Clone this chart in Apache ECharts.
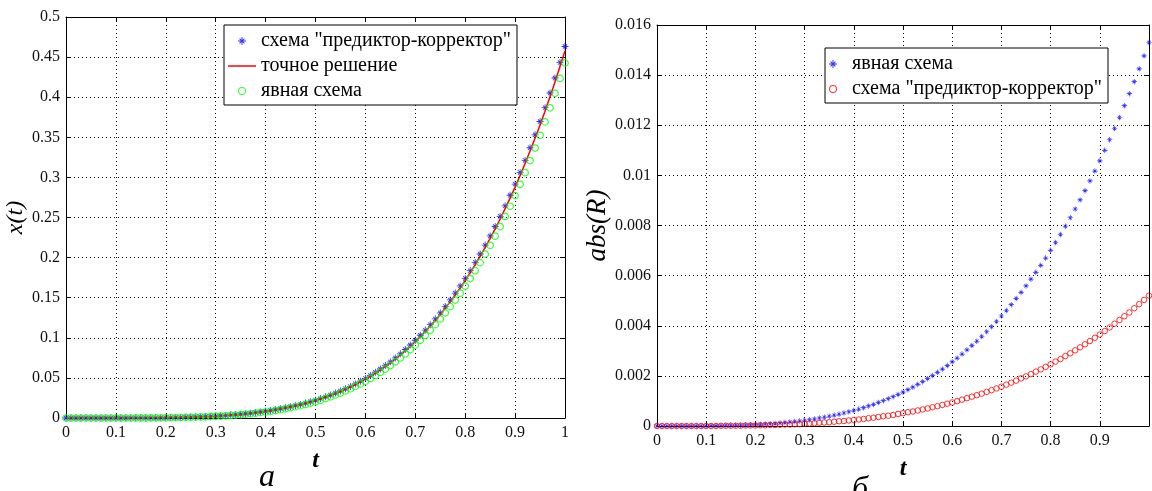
<!DOCTYPE html>
<html>
<head>
<meta charset="utf-8">
<script src="https://cdn.jsdelivr.net/npm/echarts@6/dist/echarts.min.js"></script>
<style>
html,body{margin:0;padding:0;background:#fff;}
#chart{width:1152px;height:491px;}
</style>
</head>
<body>
<div id="chart"></div>
<script>
// ---- data ----
const T = [
0,0.01,0.02,0.03,0.04,0.05,0.06,0.07,0.08,0.09,
0.1,0.11,0.12,0.13,0.14,0.15,0.16,0.17,0.18,0.19,
0.2,0.21,0.22,0.23,0.24,0.25,0.26,0.27,0.28,0.29,
0.3,0.31,0.32,0.33,0.34,0.35,0.36,0.37,0.38,0.39,
0.4,0.41,0.42,0.43,0.44,0.45,0.46,0.47,0.48,0.49,
0.5,0.51,0.52,0.53,0.54,0.55,0.56,0.57,0.58,0.59,
0.6,0.61,0.62,0.63,0.64,0.65,0.66,0.67,0.68,0.69,
0.7,0.71,0.72,0.73,0.74,0.75,0.76,0.77,0.78,0.79,
0.8,0.81,0.82,0.83,0.84,0.85,0.86,0.87,0.88,0.89,
0.9,0.91,0.92,0.93,0.94,0.95,0.96,0.97,0.98,0.99,
1];

// left panel: x(t)
const xPredCorr = [
0,0,0,0,0,0,0,0,0,0,
0,0,0,0.0001,0.0001,0.0001,0.0001,0.0002,0.0002,0.0003,
0.0004,0.0005,0.0006,0.0007,0.0009,0.0011,0.0013,0.0015,0.0018,0.0021,
0.0024,0.0028,0.0032,0.0036,0.0041,0.0047,0.0053,0.0060,0.0067,0.0075,
0.0084,0.0093,0.0104,0.0115,0.0127,0.0140,0.0154,0.0169,0.0186,0.0203,
0.0222,0.0242,0.0264,0.0286,0.0311,0.0337,0.0365,0.0394,0.0425,0.0459,
0.0493,0.0530,0.0570,0.0611,0.0654,0.0700,0.0749,0.0800,0.0854,0.0910,
0.0969,0.1032,0.1096,0.1164,0.1236,0.1311,0.1391,0.1472,0.1558,0.1647,
0.1740,0.1838,0.1940,0.2045,0.2156,0.2270,0.2388,0.2514,0.2645,0.2777,
0.2916,0.3062,0.3212,0.3370,0.3531,0.3697,0.3870,0.4052,0.4239,0.4432,
0.4632];

const xExact = [
0,0,0,0,0,0,0,0,0,0,
0,0,0,0.0001,0.0001,0.0001,0.0001,0.0002,0.0002,0.0003,
0.0004,0.0005,0.0006,0.0007,0.0009,0.0010,0.0012,0.0014,0.0017,0.0020,
0.0023,0.0026,0.0030,0.0035,0.0040,0.0045,0.0051,0.0058,0.0065,0.0073,
0.0081,0.0091,0.0101,0.0112,0.0124,0.0137,0.0150,0.0165,0.0181,0.0198,
0.0217,0.0237,0.0258,0.0280,0.0304,0.0330,0.0357,0.0386,0.0417,0.0450,
0.0484,0.0520,0.0559,0.0600,0.0643,0.0688,0.0736,0.0786,0.0839,0.0895,
0.0954,0.1015,0.1079,0.1146,0.1217,0.1291,0.1370,0.1450,0.1535,0.1623,
0.1715,0.1812,0.1913,0.2017,0.2127,0.2240,0.2357,0.2481,0.2611,0.2742,
0.2879,0.3024,0.3173,0.3329,0.3489,0.3653,0.3825,0.4005,0.4190,0.4382,
0.4580];

const xExplicit = [
0,0,0,0,0,0,0,0,0,0,
0,0,0,0,0.0001,0.0001,0.0001,0.0002,0.0002,0.0003,
0.0003,0.0004,0.0005,0.0006,0.0008,0.0009,0.0011,0.0013,0.0015,0.0018,
0.0021,0.0024,0.0028,0.0032,0.0036,0.0041,0.0047,0.0053,0.0060,0.0067,
0.0075,0.0084,0.0093,0.0104,0.0115,0.0127,0.0140,0.0154,0.0169,0.0186,
0.0203,0.0222,0.0242,0.0264,0.0287,0.0311,0.0337,0.0365,0.0394,0.0425,
0.0458,0.0493,0.0531,0.0569,0.0610,0.0654,0.0700,0.0749,0.0800,0.0853,
0.0910,0.0969,0.1031,0.1095,0.1164,0.1235,0.1311,0.1389,0.1471,0.1556,
0.1645,0.1739,0.1837,0.1937,0.2044,0.2153,0.2267,0.2387,0.2513,0.2640,
0.2773,0.2914,0.3059,0.3210,0.3366,0.3525,0.3692,0.3868,0.4048,0.4234,
0.4427];

// right panel: abs(R)
const errExplicit = [
0,0,0,0,0,0,0,0,0,0,
0,0.00001,0.00001,0.00001,0.00002,0.00002,0.00003,0.00003,0.00004,0.00005,
0.00005,0.00006,0.00008,0.00009,0.00010,0.00012,0.00014,0.00016,0.00018,0.00020,
0.00023,0.00025,0.00028,0.00032,0.00035,0.00039,0.00043,0.00047,0.00052,0.00057,
0.00062,0.00067,0.00073,0.00080,0.00086,0.00094,0.00101,0.00109,0.00117,0.00126,
0.00135,0.00145,0.00155,0.00166,0.00177,0.00189,0.00201,0.00214,0.00227,0.00241,
0.00256,0.00271,0.00287,0.00304,0.00321,0.00338,0.00357,0.00376,0.00396,0.00417,
0.00439,0.00461,0.00484,0.00509,0.00533,0.00559,0.00586,0.00613,0.00641,0.00670,
0.00701,0.00732,0.00764,0.00797,0.00831,0.00866,0.00902,0.00939,0.00978,0.01017,
0.01058,0.01100,0.01142,0.01187,0.01231,0.01278,0.01326,0.01374,0.01425,0.01477,
0.01530];

const errPredCorr = [
0,0,0,0,0,0,0,0,0,0,
0,0,0,0.00001,0.00001,0.00001,0.00001,0.00001,0.00002,0.00002,
0.00002,0.00003,0.00003,0.00004,0.00004,0.00005,0.00006,0.00006,0.00007,0.00008,
0.00009,0.00010,0.00011,0.00013,0.00014,0.00015,0.00017,0.00019,0.00020,0.00022,
0.00024,0.00026,0.00028,0.00031,0.00033,0.00036,0.00039,0.00041,0.00044,0.00048,
0.00051,0.00055,0.00058,0.00062,0.00066,0.00070,0.00075,0.00079,0.00084,0.00089,
0.00094,0.00099,0.00105,0.00111,0.00117,0.00123,0.00129,0.00136,0.00143,0.00150,
0.00157,0.00165,0.00173,0.00181,0.00190,0.00198,0.00207,0.00217,0.00226,0.00236,
0.00246,0.00257,0.00267,0.00279,0.00290,0.00302,0.00314,0.00326,0.00339,0.00352,
0.00365,0.00379,0.00393,0.00408,0.00423,0.00438,0.00453,0.00470,0.00486,0.00503,
0.00520];

const NAME_PC = 'схема "предиктор-корректор"';
const NAME_EXACT = 'точное решение';
const NAME_EXPL = 'явная схема';
const LABEL_A = 'а';
const LABEL_B = 'б';

// ---- styling helpers ----
const SERIF = '"Liberation Serif", "DejaVu Serif", serif';
const STAR = 'path://M-0.6,-5L0.6,-5L0.6,5L-0.6,5Z M-5,-0.6L5,-0.6L5,0.6L-5,0.6Z M-3.5,-2.65L-2.65,-3.5L3.5,2.65L2.65,3.5Z M2.65,-3.5L3.5,-2.65L-2.65,3.5L-3.5,2.65Z';
const RING = 'path://M-5,0A5,5 0 1,0 5,0A5,5 0 1,0 -5,0Z M-3.8,0A3.8,3.8 0 1,1 3.8,0A3.8,3.8 0 1,1 -3.8,0Z';
const HLINE = 'path://M0,0L28,0L28,1.5L0,1.5Z';

const pairs = (ys) => T.map((t, i) => [t, ys[i]]);

function mainX(gi, name) {
  return {
    gridIndex: gi, type: 'value', min: 0, max: 1, interval: 0.1, position: 'bottom',
    name: name, nameLocation: 'middle', nameGap: 31,
    nameTextStyle: {fontFamily: SERIF, fontStyle: 'italic', fontWeight: 'bold', fontSize: 24, color: '#000'},
    axisLine: {show: true, onZero: false, lineStyle: {color: '#000', width: 1}},
    axisTick: {show: true, inside: true, length: 5, lineStyle: {color: '#000'}},
    axisLabel: {fontFamily: SERIF, fontSize: 16, color: '#111', margin: 7,
      formatter: (v) => (gi === 1 && v >= 1) ? '' : String(+v.toFixed(3))},
    splitLine: {show: true, lineStyle: {color: '#000', type: [1, 3], width: 1}}
  };
}
function boxX(gi) {
  return {
    gridIndex: gi, type: 'value', min: 0, max: 1, interval: 0.1, position: 'top',
    axisLine: {show: true, onZero: false, lineStyle: {color: '#000', width: 1}},
    axisTick: {show: true, inside: true, length: 5, lineStyle: {color: '#000'}},
    axisLabel: {show: false}, splitLine: {show: false}
  };
}
function mainY(gi, max, interval, name, gap, nameSize) {
  return {
    gridIndex: gi, type: 'value', min: 0, max: max, interval: interval, position: 'left',
    name: name, nameLocation: 'middle', nameGap: gap, nameRotate: 90,
    nameTextStyle: {fontFamily: SERIF, fontStyle: 'italic', fontSize: nameSize, color: '#000'},
    axisLine: {show: true, onZero: false, lineStyle: {color: '#000', width: 1}},
    axisTick: {show: true, inside: true, length: 5, lineStyle: {color: '#000'}},
    axisLabel: {fontFamily: SERIF, fontSize: 16, color: '#111', margin: 6},
    splitLine: {show: true, lineStyle: {color: '#000', type: [1, 3], width: 1}}
  };
}
function boxY(gi, max, interval) {
  return {
    gridIndex: gi, type: 'value', min: 0, max: max, interval: interval, position: 'right',
    axisLine: {show: true, onZero: false, lineStyle: {color: '#000', width: 1}},
    axisTick: {show: true, inside: true, length: 5, lineStyle: {color: '#000'}},
    axisLabel: {show: false}, splitLine: {show: false}
  };
}
const legendBase = {
  orient: 'vertical', itemWidth: 28, itemHeight: 8, itemGap: 5,
  padding: [6, 6, 4, 4], borderColor: '#000', borderWidth: 1, borderRadius: 0,
  backgroundColor: '#fff', selectedMode: false,
  textStyle: {fontFamily: SERIF, fontSize: 20, color: '#000', lineHeight: 18}
};

const chart = echarts.init(document.getElementById('chart'), null, {renderer: 'canvas'});
chart.setOption({
  animation: false,
  backgroundColor: '#fff',
  grid: [
    {left: 66, top: 17, width: 499, height: 401, containLabel: false},
    {left: 657, top: 25, width: 499, height: 401, containLabel: false}
  ],
  xAxis: [mainX(0, 't'), boxX(0), mainX(1, 't'), boxX(1)],
  yAxis: [
    mainY(0, 0.5, 0.05, 'x(t)', 34, 24), boxY(0, 0.5, 0.05),
    mainY(1, 0.016, 0.002, 'abs(R)', 42, 27), boxY(1, 0.016, 0.002)
  ],
  legend: [
    Object.assign({}, legendBase, {left: 224, top: 25, data: [
      {name: NAME_PC, icon: STAR, itemStyle: {color: '#0000ff', borderWidth: 0}},
      {name: NAME_EXACT, icon: HLINE, itemStyle: {color: '#ff0000', borderWidth: 0}},
      {name: NAME_EXPL, icon: RING, itemStyle: {color: '#00ff00', borderWidth: 0}}
    ]}),
    Object.assign({}, legendBase, {left: 825, top: 48, data: [
      {name: NAME_EXPL, icon: STAR, itemStyle: {color: '#0000ff', borderWidth: 0}},
      {name: NAME_PC, icon: RING, itemStyle: {color: '#ff0000', borderWidth: 0}}
    ]})
  ],
  series: [
    {name: NAME_PC, type: 'scatter', xAxisIndex: 0, yAxisIndex: 0, data: pairs(xPredCorr),
     symbol: STAR, symbolSize: 7, itemStyle: {color: '#0000ff'}, z: 3},
    {name: NAME_EXACT, type: 'line', xAxisIndex: 0, yAxisIndex: 0, data: pairs(xExact),
     symbol: 'none', showSymbol: false, lineStyle: {color: '#ff0000', width: 1.5}, itemStyle: {color: '#ff0000'}, z: 4},
    {name: NAME_EXPL, type: 'scatter', xAxisIndex: 0, yAxisIndex: 0, data: pairs(xExplicit),
     symbol: 'circle', symbolSize: 6.5, itemStyle: {color: 'rgba(0,0,0,0)', borderColor: '#00ff00', borderWidth: 1.2}, z: 5},
    {name: NAME_EXPL, type: 'scatter', xAxisIndex: 2, yAxisIndex: 2, data: pairs(errExplicit),
     symbol: STAR, symbolSize: 5.5, itemStyle: {color: '#0000ff'}, z: 3},
    {name: NAME_PC, type: 'scatter', xAxisIndex: 2, yAxisIndex: 2, data: pairs(errPredCorr),
     symbol: 'circle', symbolSize: 5.5, itemStyle: {color: 'rgba(0,0,0,0)', borderColor: '#ff0000', borderWidth: 1}, z: 4}
  ],
  graphic: [
    {type: 'text', x: 267, y: 494, style: {text: LABEL_A, font: 'italic 32px ' + SERIF, fill: '#000', textAlign: 'center', textVerticalAlign: 'bottom'}},
    {type: 'text', x: 860, y: 506, style: {text: LABEL_B, font: 'italic 32px ' + SERIF, fill: '#000', textAlign: 'center', textVerticalAlign: 'bottom'}}
  ]
});
</script>
</body>
</html>
